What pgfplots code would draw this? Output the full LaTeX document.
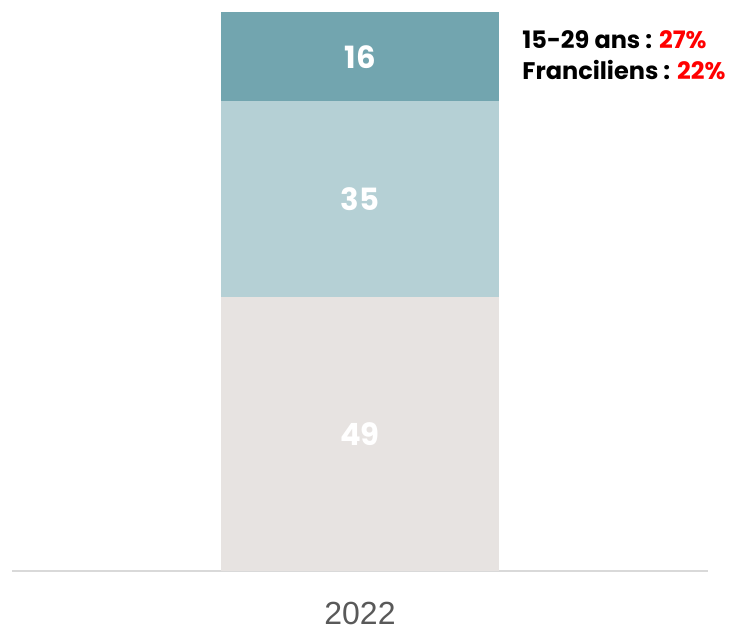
\documentclass[border=0pt]{standalone}
\usepackage{pgfplots}
\pgfplotsset{compat=1.18}
\usepackage{fontspec}
\setmainfont{Liberation Sans}
\newfontfamily\pop{Poppins}[UprightFont=* SemiBold, BoldFont=* Bold]
\definecolor{cTeal}{HTML}{72A5AF}
\definecolor{cLight}{HTML}{B5D0D5}
\definecolor{cGrey}{HTML}{E7E3E1}
\definecolor{cAxis}{HTML}{D9D9D9}
\definecolor{cText}{HTML}{595959}
\begin{document}
\begin{tikzpicture}
\begin{axis}[
  name=ax,
  scale only axis,
  width=522pt, height=419.25pt,
  xmin=-1.25, xmax=1.25, ymin=0, ymax=100,
  ybar stacked, bar width=208.5pt,
  axis x line=bottom, axis y line=none,
  x axis line style={cAxis, line width=1pt, -},
  xtick={0}, xticklabels={2022},
  xticklabel style={font=\fontsize{24}{28}\selectfont, text=cText, yshift=-20pt},
  major tick length=0pt,
  ytick=\empty,
  clip=false,
]
\addplot[fill=cGrey, draw=none] coordinates {(0,49)};
\addplot[fill=cLight, draw=none] coordinates {(0,35)};
\addplot[fill=cTeal, draw=none] coordinates {(0,16)};
\coordinate (c1) at (axis cs:0,24.5);
\coordinate (c2) at (axis cs:0,66.5);
\coordinate (c3) at (axis cs:0,92);
\node[anchor=west, inner sep=0pt, font=\pop\bfseries\fontsize{18}{20}\selectfont] at (rel axis cs:0.733,0.95) {15-29 ans : \textcolor{red}{27\%}};
\node[anchor=west, inner sep=0pt, font=\pop\bfseries\fontsize{18}{20}\selectfont] at (rel axis cs:0.733,0.896) {Franciliens : \textcolor{red}{22\%}};
\end{axis}
\node[text=white, font=\pop\bfseries\fontsize{23}{26}\selectfont] at (c1) {49};
\node[text=white, font=\pop\bfseries\fontsize{23}{26}\selectfont] at (c2) {35};
\node[text=white, font=\pop\bfseries\fontsize{23}{26}\selectfont] at (c3) {16};
\path[use as bounding box] ([shift={(-9pt,-41.25pt)}]ax.south west) rectangle ([shift={(21pt,9pt)}]ax.north east);
\end{tikzpicture}
\end{document}
